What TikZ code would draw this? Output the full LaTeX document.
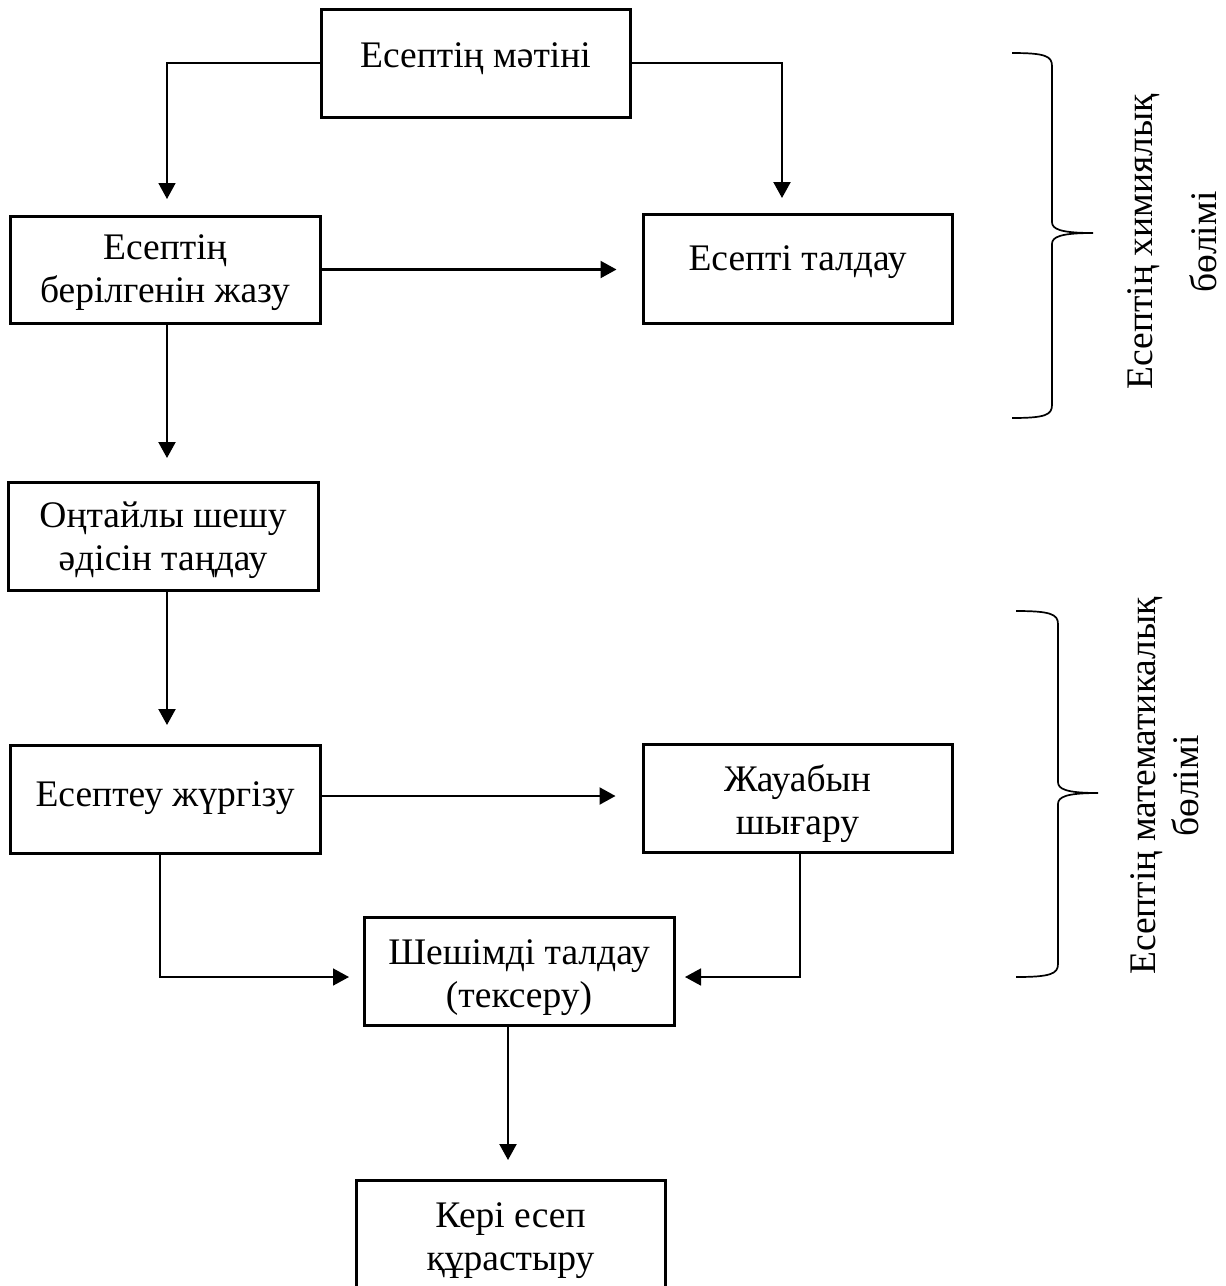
\documentclass[tikz,border=0pt]{standalone}
\usepackage{fontspec}
\setmainfont{Liberation Serif}
\usetikzlibrary{arrows.meta,calc}
\tikzset{
  box/.style={draw, line width=3pt, rectangle, inner sep=0pt},
  txt/.style={font=\fontsize{37.5}{43}\selectfont, align=center, inner sep=0pt, anchor=base},
  vtxt/.style={font=\fontsize{37.5}{43}\selectfont, align=center, inner sep=0pt, rotate=90},
  arr/.style={line width=2.2pt, -{Triangle[length=16pt,width=17pt]}},
  thinarr/.style={line width=1.6pt, -{Triangle[length=16pt,width=17pt]}},
  brace/.style={line width=1.7pt}
}
\begin{document}
\begin{tikzpicture}[x=1pt,y=-1pt]
\useasboundingbox (0,0) rectangle (1226,1286);
\clip (0,0) rectangle (1226,1286);
% boxes
\node[box, minimum width=309pt, minimum height=108pt] (b1) at (475.5,63) {};
\node[box, minimum width=310pt, minimum height=107pt] (b2) at (165,269.5) {};
\node[box, minimum width=309pt, minimum height=109pt] (b3) at (797.5,268.5) {};
\node[box, minimum width=310pt, minimum height=108pt] (b4) at (163,536) {};
\node[box, minimum width=310pt, minimum height=108pt] (b5) at (165,799) {};
\node[box, minimum width=309pt, minimum height=108pt] (b6) at (797.5,798) {};
\node[box, minimum width=310pt, minimum height=108pt] (b7) at (519,971) {};
\node[box, minimum width=309pt, minimum height=130pt] (b8) at (510.5,1245) {};
% texts (base = last line's baseline)
\node[txt] (t1) at (475.5,67) {Есептің мәтіні};
\node[txt] (t2) at (165,302) {Есептің\\берілгенін жазу};
\node[txt] (t3) at (797.5,270) {Есепті талдау};
\node[txt] (t4) at (163,570) {Оңтайлы шешу\\әдісін таңдау};
\node[txt] (t5) at (165,806) {Есептеу жүргізу};
\node[txt] (t6) at (797.5,834) {Жауабын\\шығару};
\node[txt] (t7) at (519,1007) {Шешімді талдау\\(тексеру)};
\node[txt] (t8) at (510.5,1270) {Кері есеп\\құрастыру};
% connectors
\coordinate (c1) at (167,216);
\coordinate (c3) at (782,214);
\draw[thinarr, shorten >=17pt] (b1.west) -| (c1);
\draw[arr, shorten >=16pt] (b1.east) -| (c3);
\draw[arr, shorten >=25pt] (b2.east) -- (b3.west |- b2.east);
\coordinate (c2b) at (167,323);
\coordinate (c4t) at (167,482);
\draw[arr, shorten >=24pt] (c2b) -- (c4t);
\coordinate (c4b) at (167,590);
\coordinate (c5t) at (167,745);
\draw[arr, shorten >=20pt] (c4b) -- (c5t);
\draw[arr, shorten >=26pt] (b5.east |- 0,796) -- (b6.west |- 0,796);
\coordinate (c5b) at (160,853);
\coordinate (c7l) at (364,977);
\draw[thinarr, shorten >=15pt] (c5b) |- (c7l);
\coordinate (c6b) at (800,852);
\coordinate (c7r) at (674,977);
\draw[thinarr, shorten >=11pt] (c6b) |- (c7r);
\coordinate (c7b) at (508,1025);
\coordinate (c8t) at (508,1180);
\draw[arr, shorten >=20pt] (c7b) -- (c8t);
% braces
\draw[brace] (1012,53) .. controls (1045,53) and (1052,56) .. (1052,66)
  -- (1052,222) .. controls (1052,229) and (1060,233) .. (1093,233)
  .. controls (1060,233) and (1052,237) .. (1052,244)
  -- (1052,405) .. controls (1052,415) and (1045,418) .. (1012,418);
\draw[brace] (1016,611) .. controls (1050,611) and (1058,614) .. (1058,624)
  -- (1058,782) .. controls (1058,789) and (1066,793) .. (1098,793)
  .. controls (1066,793) and (1058,797) .. (1058,804)
  -- (1058,964) .. controls (1058,974) and (1050,977) .. (1016,977);
% side labels
\node[vtxt, font=\fontsize{37.5}{64}\selectfont] (s1) at (1172,242) {Есептің химиялық\\бөлімі};
\node[vtxt] (s2) at (1165,786) {Есептің математикалық\\бөлімі};
\end{tikzpicture}
\end{document}
